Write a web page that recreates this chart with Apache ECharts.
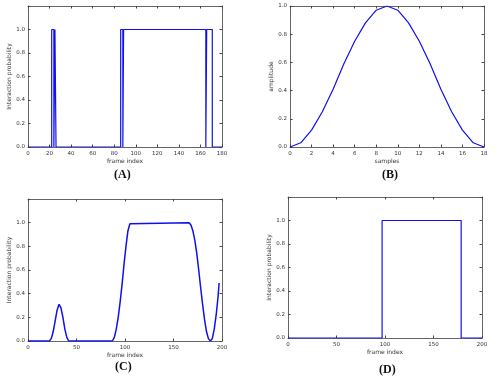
<!DOCTYPE html>
<html>
<head>
<meta charset="UTF-8">
<title>interaction probability</title>
<script src="https://cdn.jsdelivr.net/npm/echarts@6/dist/echarts.min.js"></script>
<style>
html, body { margin: 0; padding: 0; background: #fff; }
#chart { width: 499px; height: 376px; }
</style>
</head>
<body>
<div id="chart"></div>
<script>
// (A) raw interaction decisions per frame (corner points of the step trace)
var aFrames = [0, 22, 22, 24, 24, 25, 25, 26, 26, 86, 86, 88, 88, 88.7, 88.7, 165, 165, 165.8, 165.8, 171, 171, 180];
var aValues = [0, 0, 1, 1, 0, 0, 1, 1, 0, 0, 1, 1, 0, 0, 1, 1, 0, 0, 1, 1, 0, 0];

// (B) smoothing window
var bSamples = [0, 1, 2, 3, 4, 5, 6, 7, 8, 9, 10, 11, 12, 13, 14, 15, 16, 17, 18];
var bAmplitude = [0, 0.03, 0.12, 0.25, 0.41, 0.59, 0.75, 0.88, 0.97, 1.0,
                  0.97, 0.88, 0.75, 0.59, 0.41, 0.25, 0.12, 0.03, 0];

// (C) smoothed probability
var cFrames = [0, 22, 24, 26, 28, 30, 32, 34, 36, 38, 40, 42, 87, 89, 91, 93, 95, 97, 99, 101, 103, 105, 107,
               166, 168, 170, 172, 174, 176, 178, 180, 182, 184, 186, 188, 189, 190, 192, 194, 196, 197];
var cValues = [0, 0, 0.02, 0.08, 0.17, 0.26, 0.31, 0.28, 0.2, 0.1, 0.03, 0, 0, 0.03, 0.1, 0.2, 0.33, 0.48, 0.65, 0.8, 0.93, 0.99, 1.0,
               1.0, 0.98, 0.93, 0.85, 0.74, 0.6, 0.45, 0.31, 0.18, 0.08, 0.02, 0, 0, 0.02, 0.1, 0.22, 0.38, 0.49];

// (D) thresholded result
var dFrames = [0, 97, 97, 178.5, 178.5, 200];
var dValues = [0, 0, 1, 1, 0, 0];

function pairs(xs, ys) {
    var out = [];
    for (var i = 0; i < xs.length; i++) out.push([xs[i], ys[i]]);
    return out;
}

var chart = echarts.init(document.getElementById('chart'));

var tickFont = { fontSize: 5.5, color: '#333', fontFamily: 'DejaVu Sans' };
var nameFont = { fontSize: 6, color: '#333', fontFamily: 'DejaVu Sans' };
var frameLine = { show: true, onZero: false, lineStyle: { color: '#666', width: 1 } };

var grids = [
    { left: 28, top: 6, width: 194, height: 141 },
    { left: 290, top: 6, width: 194, height: 141 },
    { left: 28, top: 199, width: 194, height: 142 },
    { left: 288, top: 197, width: 194, height: 141 }
];

var xAxes = [], yAxes = [];
function addAxes(g, xmax, xint, ymax, xname, yname) {
    var tick = { inside: true, length: 2.5, lineStyle: { color: '#444' } };
    xAxes.push({
        gridIndex: g, type: 'value', min: 0, max: xmax, interval: xint,
        name: xname, nameLocation: 'middle', nameGap: 11, nameTextStyle: nameFont,
        axisLine: frameLine, axisTick: tick, splitLine: { show: false },
        axisLabel: Object.assign({ margin: 4 }, tickFont)
    });
    xAxes.push({
        gridIndex: g, type: 'value', position: 'top', min: 0, max: xmax, interval: xint,
        axisLine: frameLine, axisTick: tick, splitLine: { show: false }, axisLabel: { show: false }
    });
    yAxes.push({
        gridIndex: g, type: 'value', min: 0, max: ymax, interval: 0.2,
        name: yname, nameLocation: 'middle', nameGap: 14, nameTextStyle: nameFont,
        axisLine: frameLine, axisTick: tick, splitLine: { show: false },
        axisLabel: Object.assign({
            margin: 3,
            formatter: function (v) { return v > 1.05 ? '' : v.toFixed(1); }
        }, tickFont)
    });
    yAxes.push({
        gridIndex: g, type: 'value', position: 'right', min: 0, max: ymax, interval: 0.2,
        axisLine: frameLine, axisTick: tick, splitLine: { show: false }, axisLabel: { show: false }
    });
}
addAxes(0, 180, 20, 1.2, 'frame index', 'Interaction probability');
addAxes(1, 18, 2, 1.0, 'samples', 'amplitude');
addAxes(2, 200, 50, 1.2, 'frame index', 'Interaction probability');
addAxes(3, 200, 50, 1.2, 'frame index', 'Interaction probability');

function lineSeries(g, data, width) {
    return {
        type: 'line', xAxisIndex: 2 * g, yAxisIndex: 2 * g, data: data,
        showSymbol: false, symbol: 'none', animation: false,
        lineStyle: { color: '#1010ee', width: width }
    };
}

var capFont = { fontSize: 12, fontWeight: 'bold', color: '#111', fontFamily: 'Liberation Serif' };

chart.setOption({
    backgroundColor: '#fff',
    title: [
        { text: '(A)', left: 109, top: 164, textStyle: capFont },
        { text: '(B)', left: 377, top: 164, textStyle: capFont },
        { text: '(C)', left: 110, top: 356, textStyle: capFont },
        { text: '(D)', left: 374, top: 359, textStyle: capFont }
    ],
    grid: grids,
    xAxis: xAxes,
    yAxis: yAxes,
    series: [
        lineSeries(0, pairs(aFrames, aValues), 1.2),
        lineSeries(1, pairs(bSamples, bAmplitude), 1.2),
        lineSeries(2, pairs(cFrames, cValues), 1.5),
        lineSeries(3, pairs(dFrames, dValues), 1.2)
    ]
});
</script>
</body>
</html>
